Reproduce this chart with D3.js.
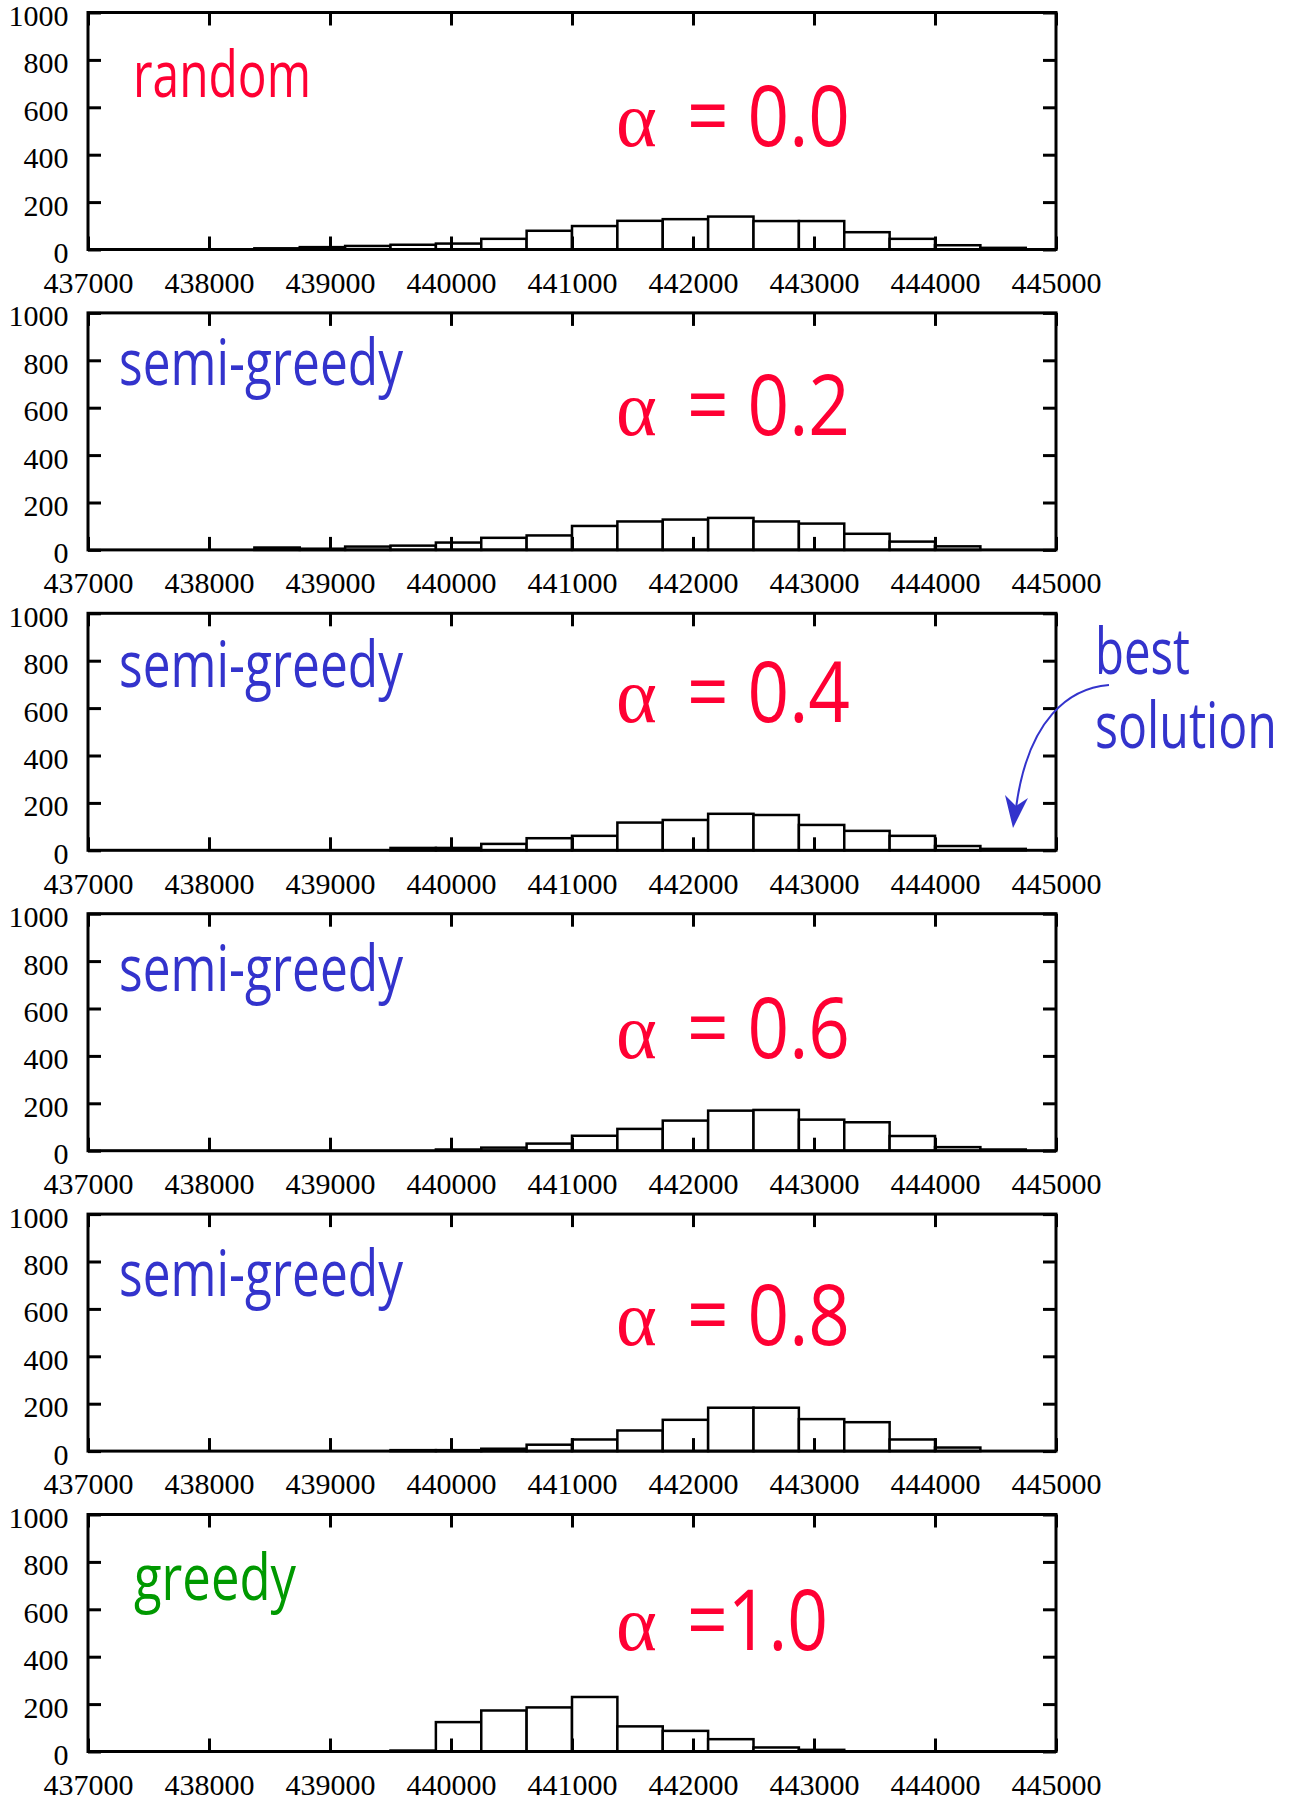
<!DOCTYPE html>
<html>
<head>
<meta charset="utf-8">
<script src="https://cdnjs.cloudflare.com/ajax/libs/d3/7.8.5/d3.min.js"></script>
<style>
body { margin: 0; background: #fff; }
.serif { font-family: "Liberation Serif", "Times New Roman", "DejaVu Serif", serif; }
.sans { font-family: "Open Sans", "Noto Sans", sans-serif; }
</style>
</head>
<body>
<svg id="chart" width="1296" height="1802"></svg>
<script>
// histogram bins: start value and width of each bin
var binStart = 438375, binWidth = 375;
var xTicks = [437000, 438000, 439000, 440000, 441000, 442000, 443000, 444000, 445000];
var yTicks = [0, 200, 400, 600, 800, 1000];

var countsRandom = [5, 10, 15, 20, 25, 45, 79, 99, 121, 128, 139, 120, 120, 73, 45, 18, 7];
var countsAlpha02 = [10, 5, 14, 18, 31, 51, 61, 101, 120, 128, 135, 120, 111, 68, 35, 15, 0];
var countsAlpha04 = [0, 0, 0, 10, 10, 27, 51, 61, 117, 128, 154, 149, 107, 82, 61, 18, 6];
var countsAlpha06 = [0, 0, 0, 0, 5, 13, 30, 63, 92, 127, 169, 172, 131, 120, 62, 15, 5];
var countsAlpha08 = [0, 0, 0, 4, 4, 10, 27, 49, 87, 132, 183, 183, 135, 122, 49, 15, 0];
var countsGreedy = [0, 0, 0, 4, 124, 173, 186, 230, 106, 87, 52, 17, 7, 0, 0, 0, 0];

var panelCounts = [countsRandom, countsAlpha02, countsAlpha04, countsAlpha06, countsAlpha08, countsGreedy];
var panelNames = ["random", "semi-greedy", "semi-greedy", "semi-greedy", "semi-greedy", "greedy"];
var alphaValues = ["= 0.0", "= 0.2", "= 0.4", "= 0.6", "= 0.8", "=1.0"];

var RED = "#ff0033", BLUE = "#3333cc", GREEN = "#009900";
var nameColors = [RED, BLUE, BLUE, BLUE, BLUE, GREEN];

// layout of the labels inside each panel
var nameLayout = [
    { x: 133, w: 178, dy: 84.5 },
    { x: 119, w: 284, dy: 72.5 },
    { x: 119, w: 284, dy: 74 },
    { x: 119, w: 284, dy: 77.6 },
    { x: 119, w: 284, dy: 81.5 },
    { x: 134, w: 162, dy: 85.5 }
];
var alphaDy = [133.5, 121.6, 108.7, 144.3, 130.9, 135.5];

var left = 88, right = 1056, panelTop0 = 12.5, panelStep = 300.4, panelH = 237;
var tickLen = 13;

var svg = d3.select("#chart");
var x = d3.scaleLinear().domain([437000, 445000]).range([left, right]);

panelCounts.forEach(function(counts, i) {
    var top = panelTop0 + i * panelStep, bottom = top + panelH;
    var y = d3.scaleLinear().domain([0, 1000]).range([bottom, top]);
    var g = svg.append("g");

    // bars
    var bins = counts.map(function(c, k) {
        return { x0: binStart + k * binWidth, x1: binStart + (k + 1) * binWidth, n: c };
    }).filter(function(b) { return b.n > 0; });

    g.selectAll("rect.bar").data(bins).enter().append("rect")
        .attr("class", "bar")
        .attr("x", function(d) { return x(d.x0); })
        .attr("width", function(d) { return x(d.x1) - x(d.x0); })
        .attr("y", function(d) { return y(d.n); })
        .attr("height", function(d) { return y(0) - y(d.n); })
        .attr("fill", "#fff")
        .attr("stroke", "#000")
        .attr("stroke-width", 2.5);

    // axes with inward ticks on all four sides
    var axB = g.append("g").attr("transform", "translate(0," + bottom + ")")
        .call(d3.axisBottom(x).tickValues(xTicks).tickFormat(d3.format("d")).tickSizeInner(-tickLen).tickSizeOuter(0).tickPadding(22));
    var axT = g.append("g").attr("transform", "translate(0," + top + ")")
        .call(d3.axisTop(x).tickValues(xTicks).tickSizeInner(-tickLen).tickSizeOuter(0));
    var axL = g.append("g").attr("transform", "translate(" + left + ",0)")
        .call(d3.axisLeft(y).tickValues(yTicks).tickFormat(d3.format("d")).tickSizeInner(-tickLen).tickSizeOuter(0).tickPadding(19.5));
    var axR = g.append("g").attr("transform", "translate(" + right + ",0)")
        .call(d3.axisRight(y).tickValues(yTicks).tickSizeInner(-tickLen).tickSizeOuter(0));

    axT.selectAll(".tick text").remove();
    axR.selectAll(".tick text").remove();

    [axB, axT, axL, axR].forEach(function(a) {
        a.attr("font-family", null).attr("font-size", null);
        a.select(".domain").remove();
        a.selectAll(".tick line").attr("stroke", "#000").attr("stroke-width", 3);
        a.selectAll(".tick text").attr("class", "serif").attr("fill", "#000")
            .style("font-size", "30px");
    });
    axL.selectAll(".tick text").attr("dy", "0.43em");

    // frame
    g.append("rect")
        .attr("x", left).attr("y", top)
        .attr("width", right - left).attr("height", panelH)
        .attr("fill", "none").attr("stroke", "#000").attr("stroke-width", 3);

    // method label
    var nl = nameLayout[i];
    g.append("text")
        .attr("class", "sans")
        .attr("x", nl.x).attr("y", top + nl.dy)
        .attr("textLength", nl.w).attr("lengthAdjust", "spacingAndGlyphs")
        .style("font-size", "64px")
        .attr("fill", nameColors[i])
        .text(panelNames[i]);

    // alpha label
    g.append("text")
        .attr("class", "serif")
        .attr("x", 616).attr("y", top + alphaDy[i])
        .style("font-size", "78px")
        .attr("fill", RED)
        .text("α");
    g.append("text")
        .attr("class", "sans")
        .attr("x", 687).attr("y", top + alphaDy[i])
        .attr("textLength", i == 5 ? 141 : 163).attr("lengthAdjust", "spacingAndGlyphs")
        .style("font-size", "84px")
        .attr("fill", RED)
        .text(alphaValues[i]);
});

// "best solution" annotation with the curved arrow
svg.append("text")
    .attr("class", "sans")
    .attr("x", 1095).attr("y", 674)
    .attr("textLength", 95).attr("lengthAdjust", "spacingAndGlyphs")
    .style("font-size", "64px")
    .attr("fill", BLUE).text("best");
svg.append("text")
    .attr("class", "sans")
    .attr("x", 1095).attr("y", 748)
    .attr("textLength", 182).attr("lengthAdjust", "spacingAndGlyphs")
    .style("font-size", "64px")
    .attr("fill", BLUE).text("solution");

var arrowPath = d3.path();
arrowPath.moveTo(1109, 685);
arrowPath.bezierCurveTo(1070, 688, 1028, 718, 1016, 808);
svg.append("path").attr("d", arrowPath.toString())
    .attr("fill", "none").attr("stroke", BLUE).attr("stroke-width", 2);
svg.append("path")
    .attr("d", "M1013,828 L1005,795 L1016,806 L1028,798 Z")
    .attr("fill", BLUE);
</script>
</body>
</html>
